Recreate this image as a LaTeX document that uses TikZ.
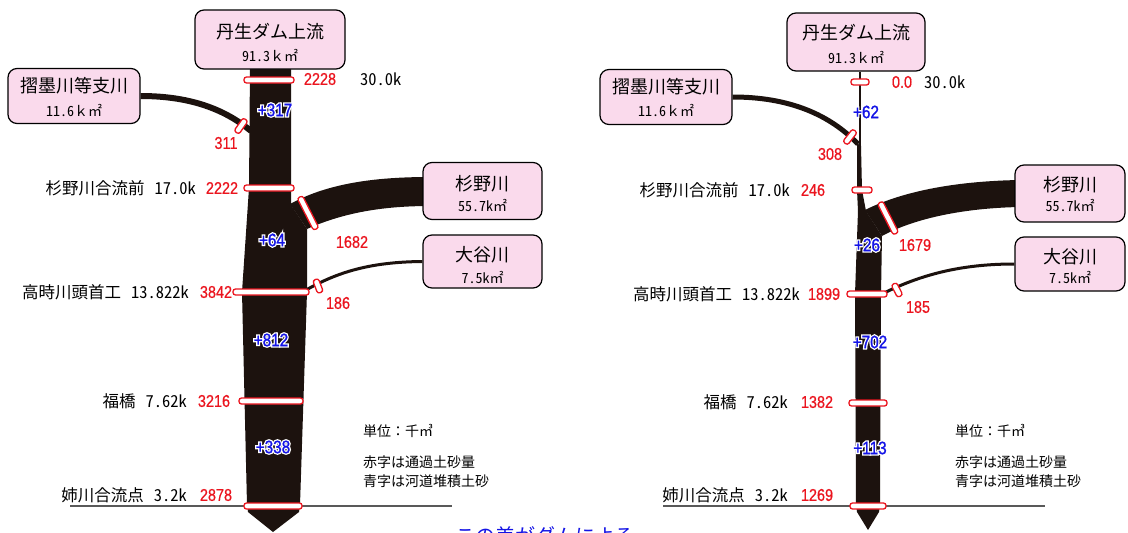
\documentclass[tikz,border=0pt]{standalone}
\usepackage{fontspec}
\setmainfont{Noto Sans CJK JP}
\newfontfamily\jp{Noto Sans CJK JP}
\newfontfamily\jph[RawFeature=+hwid]{Noto Sans CJK JP}
\newfontfamily\numf[FakeStretch=0.85,FakeBold=0.6]{Liberation Sans}
\newfontfamily\bnf[FakeStretch=0.85,FakeBold=1.2]{Liberation Sans}
\newfontfamily\halof[FakeStretch=0.85,FakeBold=16]{Liberation Sans}
\definecolor{riv}{RGB}{28,18,14}
\definecolor{pinkbox}{RGB}{250,218,236}
\definecolor{redn}{RGB}{235,20,30}
\definecolor{bluen}{RGB}{20,20,230}
\newcommand\hb[1]{\rlap{\color{white}\halof #1}{\color{bluen}\bnf #1}}
\tikzset{
 box/.style={draw=black, line width=1.2pt, fill=pinkbox, rounded corners=9pt, inner sep=0pt},
 bar/.style={draw=redn, fill=white, line width=1.3pt, rounded corners=2.5pt, minimum height=6pt, inner sep=0pt},
 rn/.style={text=redn, font=\fontsize{17}{17}\selectfont\numf, inner sep=0pt},
 bn/.style={font=\fontsize{18}{18}\selectfont, inner sep=0pt},
 lab/.style={font=\fontsize{16.5}{17}\selectfont\jph, inner sep=0pt, anchor=east},
 bt/.style={font=\fontsize{18}{18}\selectfont\jp, inner sep=0pt},
 st/.style={font=\fontsize{14}{14}\selectfont\jph, inner sep=0pt},
 note/.style={font=\fontsize{14}{14}\selectfont\jp, inner sep=0pt, anchor=west},
 tribline/.style={draw=riv, line cap=butt},
 base/.style={draw=black!65, line width=1.2pt},
}
\newcommand\gap{\hspace{0.6em}}
\newcommand\fk{{\jp ｋ}}
\begin{document}
\begin{tikzpicture}[x=1pt,y=-1pt]
\fill[white] (0,0) rectangle (1128,533);
\useasboundingbox (0,0) rectangle (1128,533);

% ================= LEFT =================
\draw[base] (70,506) -- (452,506);
\fill[riv] (290,204) .. controls (330,182) and (380,177) .. (430,177) -- (430,206) .. controls (385,206) and (345,212) .. (307,229) -- cycle;
\fill[riv] (250,66) -- (291,66) -- (291,205) -- (307,229) -- (307,292) -- (300,505) -- (299,512) -- (273,532) -- (248,512) -- (247,505) -- (242,292) -- (249,188) -- cycle;

\node[box, minimum width=150, minimum height=59] (L0) at (270,39.5) {};
\node[bt] (L0a) at (270,32) {丹生ダム上流};
\node[st] (L0b) at (270,55) {91.3\fk㎡};
\node[box, minimum width=132, minimum height=55] (L1) at (74,96) {};
\node[bt] (L1a) at (74,86) {摺墨川等支川};
\node[st] (L1b) at (74,110) {11.6\fk㎡};
\node[box, minimum width=119, minimum height=57] (L2) at (482.5,191) {};
\node[bt] (L2a) at (482.5,184) {杉野川};
\node[st] (L2b) at (482.5,205) {55.7k㎡};
\node[box, minimum width=119, minimum height=53] (L3) at (482.5,261.5) {};
\node[bt] (L3a) at (482.5,255) {大谷川};
\node[st] (L3b) at (482.5,277) {7.5k㎡};

\coordinate (Lj1) at (251,131);
\coordinate (Lj3) at (306,290);
\draw[tribline, line width=6] (L1.east) .. controls (195,96) and (228,112) .. (Lj1);
\draw[tribline, line width=3] (L3.west) .. controls (370,262) and (338,272) .. (Lj3);

\node[bar, minimum width=50] (Lb0) at (269,80) {};
\node[bar, minimum width=16, rotate=55] (Lb1) at (241,126) {};
\node[bar, minimum width=50] (Lb2) at (269,188) {};
\node[bar, minimum width=36, rotate=-63] (Lb3) at (308,213) {};
\node[bar, minimum width=14, rotate=-69] (Lb4) at (318,286) {};
\node[bar, minimum width=76] (Lb5) at (271,292) {};
\node[bar, minimum width=64] (Lb6) at (271,401) {};
\node[bar, minimum width=58] (Lb7) at (273,506) {};

\node[rn] (Ln0) at (320,79) {2228};
\node[lab, anchor=west] (Lk0) at (360,79) {30.0k};
\node[bn] (Lp1) at (275,110) {\hb{+317}};
\node[rn] (Ln1) at (226,143) {311};
\node[lab] (Lk2) at (196,188) {杉野川合流前\gap 17.0k};
\node[rn] (Ln2) at (222,188) {2222};
\node[bn] (Lp2) at (272,240) {\hb{+64}};
\node[rn] (Ln3) at (352,242) {1682};
\node[rn] (Ln4) at (338,303) {186};
\node[lab] (Lk5) at (189,292) {高時川頭首工\gap 13.822k};
\node[rn] (Ln5) at (216,292) {3842};
\node[bn] (Lp3) at (271,340) {\hb{+812}};
\node[lab] (Lk6) at (187,401) {福橋\gap 7.62k};
\node[rn] (Ln6) at (214,401) {3216};
\node[bn] (Lp4) at (273,447) {\hb{+338}};
\node[lab] (Lk7) at (187,495) {姉川合流点\gap 3.2k};
\node[rn] (Ln7) at (216,495) {2878};
\node[note] (Lt1) at (363,431) {単位：千㎥};
\node[note] (Lt2) at (363,462) {赤字は通過土砂量};
\node[note] (Lt3) at (363,481) {青字は河道堆積土砂};

% ================= RIGHT =================
\draw[base] (663,506) -- (1045,506);
\fill[riv] (865,210) .. controls (905,190) and (960,181) .. (1020,180) -- (1020,207) .. controls (965,208) and (915,218) .. (882,236) -- cycle;
\fill[riv] (857,143) -- (861,146) -- (862,190) -- (866,211) -- (882,236) -- (881,294) -- (880,505) -- (879,512) -- (868,530) -- (857,512) -- (856,505) -- (855,294) -- (858,211) -- (857,190) -- cycle;

\node[box, minimum width=138, minimum height=58] (R0) at (856,42) {};
\node[bt] (R0a) at (856,33) {丹生ダム上流};
\node[st] (R0b) at (856,57) {91.3\fk㎡};
\node[box, minimum width=132, minimum height=55] (R1) at (666,97) {};
\node[bt] (R1a) at (666,87) {摺墨川等支川};
\node[st] (R1b) at (666,110) {11.6\fk㎡};
\node[box, minimum width=110, minimum height=57] (R2) at (1070,193.5) {};
\node[bt] (R2a) at (1070,185) {杉野川};
\node[st] (R2b) at (1070,205) {55.7k㎡};
\node[box, minimum width=110, minimum height=54] (R3) at (1070,264) {};
\node[bt] (R3a) at (1070,257) {大谷川};
\node[st] (R3b) at (1070,277) {7.5k㎡};

\coordinate (Rj0) at (860,146);
\coordinate (Rj1) at (858,144);
\coordinate (Rj3) at (882,294);
\draw[tribline, line width=1.5] (R0.south -| Rj0) -- (Rj0);
\draw[tribline, line width=5] (R1.east) .. controls (790,97) and (830,115) .. (Rj1);
\draw[tribline, line width=3] (R3.west) .. controls (960,264) and (920,275) .. (Rj3);

\node[bar, minimum width=18] (Rb0) at (860,82) {};
\node[bar, minimum width=16, rotate=52] (Rb1) at (850,137) {};
\node[bar, minimum width=20] (Rb2) at (862,190) {};
\node[bar, minimum width=35, rotate=-63] (Rb3) at (888,218) {};
\node[bar, minimum width=14, rotate=-63] (Rb4) at (897,290) {};
\node[bar, minimum width=40] (Rb5) at (867,294) {};
\node[bar, minimum width=38] (Rb6) at (868,403) {};
\node[bar, minimum width=36] (Rb7) at (868,506) {};

\node[rn] (Rn0) at (902,82) {0.0};
\node[lab, anchor=west] (Rk0) at (924,82) {30.0k};
\node[bn] (Rp1) at (866,112) {\hb{+62}};
\node[rn] (Rn1) at (830,154) {308};
\node[lab] (Rk2) at (790,190) {杉野川合流前\gap 17.0k};
\node[rn] (Rn2) at (813,190) {246};
\node[bn] (Rp2) at (867,245) {\hb{+26}};
\node[rn] (Rn3) at (915,245) {1679};
\node[rn] (Rn4) at (918,307) {185};
\node[lab] (Rk5) at (800,294) {高時川頭首工\gap 13.822k};
\node[rn] (Rn5) at (824,294) {1899};
\node[bn] (Rp3) at (870,342) {\hb{+702}};
\node[lab] (Rk6) at (788,402) {福橋\gap 7.62k};
\node[rn] (Rn6) at (817,402) {1382};
\node[bn] (Rp4) at (870,448) {\hb{+113}};
\node[lab] (Rk7) at (788,495) {姉川合流点\gap 3.2k};
\node[rn] (Rn7) at (817,495) {1269};
\node[note] (Rt1) at (955,431) {単位：千㎥};
\node[note] (Rt2) at (955,462) {赤字は通過土砂量};
\node[note] (Rt3) at (955,481) {青字は河道堆積土砂};

\node[anchor=north west, inner sep=0pt, text=bluen, font=\fontsize{20}{20}\selectfont\jp] (cap) at (455,526) {この差がダムによる};
\end{tikzpicture}
\end{document}
